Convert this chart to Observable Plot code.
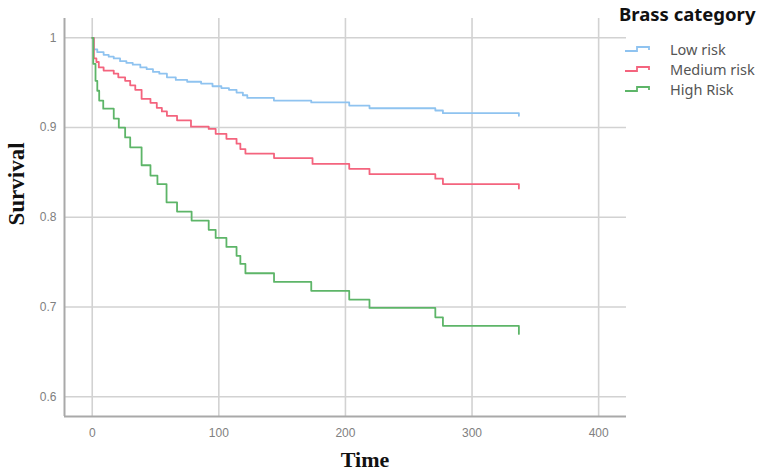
<!DOCTYPE html>
<html>
<head>
<meta charset="utf-8">
<script src="https://cdn.jsdelivr.net/npm/d3@7"></script>
<script src="https://cdn.jsdelivr.net/npm/@observablehq/plot@0.6"></script>
<style>
  html, body { margin: 0; padding: 0; background: #fff; }
  #wrap { position: relative; width: 769px; height: 473px; overflow: hidden; }
  #chart svg { display: block; }
  .ytitle { position: absolute; left: 17px; top: 184px; transform: translate(-50%, -50%) rotate(-90deg);
    font-family: "Liberation Serif", serif; font-weight: bold; font-size: 23px; color: #111; white-space: nowrap; }
  .xtitle { position: absolute; left: 365px; top: 460px; transform: translate(-50%, -50%);
    font-family: "Liberation Serif", serif; font-weight: bold; font-size: 22px; color: #111; white-space: nowrap; }
  .legend { position: absolute; left: 619px; top: 1px; font-family: "Noto Sans", sans-serif; }
  .legend .title { font-weight: bold; font-size: 18.5px; color: #111; margin-bottom: 13px; white-space: nowrap; }
  .legend .item { position: relative; height: 20px; line-height: 20px; font-size: 14.5px; color: #555; padding-left: 51px; white-space: nowrap; }
  .legend .item svg { position: absolute; left: 5px; top: 4px; }
</style>
</head>
<body>
<div id="wrap">
  <div id="chart"></div>
  <div class="ytitle">Survival</div>
  <div class="xtitle">Time</div>
  <div class="legend" id="legend"></div>
</div>
<script>
// ---- data ----
const groups = ["Low risk", "Medium risk", "High Risk"];
const colors = ["#8fc3f0", "#f4647e", "#5db568"];

const lowTime = [0, 1.3, 4, 9, 13, 17, 22, 27, 32, 38, 43, 48, 53, 59, 66, 75, 86, 95, 102, 108, 114, 119, 122.5, 143.5, 173, 203, 219, 271, 277, 337];
const lowSurv = [1, 0.987, 0.984, 0.981, 0.979, 0.977, 0.974, 0.972, 0.970, 0.967, 0.965, 0.962, 0.960, 0.956, 0.953, 0.951, 0.949, 0.946, 0.944, 0.942, 0.939, 0.936, 0.933, 0.930, 0.928, 0.9245, 0.9215, 0.919, 0.916, 0.913];

const medTime = [0, 1.3, 3.3, 5.2, 9, 17, 20.6, 26, 30, 34, 39, 46, 51, 55, 59, 67, 78, 92, 97.5, 106, 114, 117, 121, 143.6, 174, 203, 219, 271, 277, 337];
const medSurv = [1, 0.977, 0.973, 0.967, 0.9635, 0.960, 0.956, 0.952, 0.947, 0.942, 0.932, 0.9275, 0.922, 0.918, 0.913, 0.908, 0.901, 0.8985, 0.893, 0.8874, 0.882, 0.876, 0.871, 0.866, 0.8595, 0.854, 0.848, 0.843, 0.837, 0.832];

const highTime = [0, 0.8, 2.6, 4, 5.5, 8.7, 17, 21, 26, 30, 39, 46, 51.5, 58.7, 67, 78.5, 92, 97.5, 106, 114, 117, 121, 143.6, 173, 203, 219, 271, 277, 337];
const highSurv = [1, 0.971, 0.952, 0.941, 0.930, 0.921, 0.910, 0.900, 0.889, 0.878, 0.858, 0.8465, 0.837, 0.8167, 0.8064, 0.7963, 0.786, 0.777, 0.767, 0.757, 0.748, 0.7376, 0.728, 0.718, 0.7083, 0.699, 0.6885, 0.679, 0.670];

const xTicks = [0, 100, 200, 300, 400];
const yTicks = [0.6, 0.7, 0.8, 0.9, 1];
const xDomain = [-21.9, 422];
const yDomain = [0.578, 1.0215];

// ---- build table ----
const series = [[lowTime, lowSurv], [medTime, medSurv], [highTime, highSurv]];
const rows = [];
series.forEach(([ts, ss], gi) => ts.forEach((t, i) => rows.push({group: groups[gi], t, s: ss[i]})));

const chart = Plot.plot({
  width: 769,
  height: 473,
  marginLeft: 64,
  marginTop: 18,
  marginRight: 143,
  marginBottom: 57,
  style: {background: "#fff", fontFamily: "'Liberation Sans', Arial, sans-serif"},
  x: {domain: xDomain, label: null},
  y: {domain: yDomain, label: null},
  color: {domain: groups, range: colors},
  marks: [
    Plot.gridX(xTicks, {stroke: "#d2d2d2", strokeOpacity: 1, strokeWidth: 1.6}),
    Plot.gridY(yTicks, {stroke: "#d2d2d2", strokeOpacity: 1, strokeWidth: 1.6}),
    Plot.axisX(xTicks, {tickSize: 0, tickPadding: 12, fontSize: 12, fill: "#808080", tickFormat: d => String(d), label: null}),
    Plot.axisY(yTicks, {tickSize: 0, tickPadding: 8, fontSize: 12, fill: "#808080", tickFormat: d => String(d), label: null}),
    Plot.ruleX([xDomain[0]], {stroke: "#a9a9a9", strokeWidth: 2}),
    Plot.ruleY([yDomain[0]], {stroke: "#a9a9a9", strokeWidth: 2}),
    Plot.line(rows, {x: "t", y: "s", z: "group", stroke: "group", curve: "step-after", strokeWidth: 1.8})
  ]
});
document.getElementById("chart").appendChild(chart);

// ---- legend ----
const legend = document.getElementById("legend");
const title = document.createElement("div");
title.className = "title";
title.textContent = "Brass category";
legend.appendChild(title);
groups.forEach((g, i) => {
  const item = document.createElement("div");
  item.className = "item";
  item.innerHTML = `<svg width="28" height="12"><path d="M1,8 H13 V4 H25 V7" fill="none" stroke="${colors[i]}" stroke-width="1.8"/></svg>`;
  item.appendChild(document.createTextNode(g));
  legend.appendChild(item);
});
</script>
</body>
</html>
